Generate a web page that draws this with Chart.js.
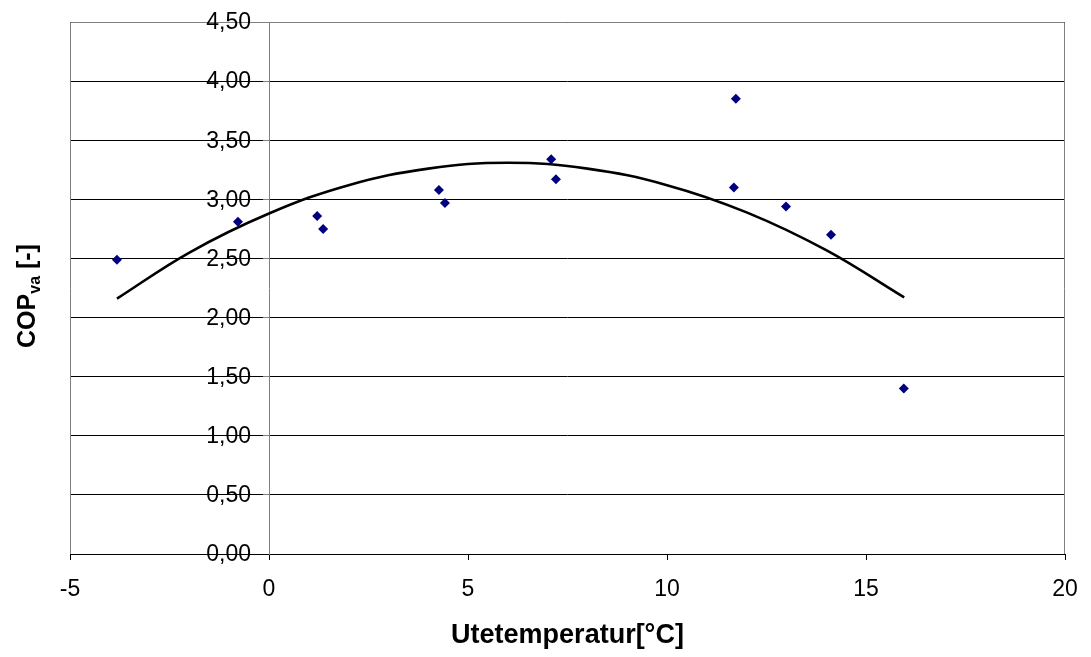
<!DOCTYPE html>
<html>
<head>
<meta charset="utf-8">
<script src="https://cdn.jsdelivr.net/npm/chart.js@4/dist/chart.umd.min.js"></script>
<style>
  html, body { margin: 0; padding: 0; background: #fff; }
</style>
</head>
<body>
<canvas id="copChart" width="1091" height="657"></canvas>
<script>
// -----------------------------------------
// DATA
// -----------------------------------------
// measured points: outdoor temperature (°C) vs COP
const tempOut = [-3.82, -0.78, 1.21, 1.36, 4.27, 4.42, 7.09, 7.21, 11.73, 11.68, 12.99, 14.12, 15.95];
const copVa   = [2.49, 2.81, 2.86, 2.75, 3.08, 2.97, 3.34, 3.17, 3.85, 3.10, 2.94, 2.70, 1.40];

// 2nd order trend curve, sampled off the figure
const trendX = [-3.82, -2, 0, 2, 4, 6, 8, 10, 12, 14, 15.96];
const trendY = [2.16, 2.55, 2.88, 3.12, 3.26, 3.31, 3.26, 3.12, 2.89, 2.57, 2.17];

// axis ranges / tick steps
const xRange = [-5, 20];
const xStep  = 5;
const yRange = [0, 4.5];
const yStep  = 0.5;

const xTitle = 'Utetemperatur[°C]';
const yTitleParts = ['COP', 'va', ' [-]'];

// -----------------------------------------
// helpers
// -----------------------------------------
const FONT = '"Liberation Sans", Arial, Helvetica, sans-serif';
const toPoints = (xs, ys) => xs.map((x, i) => ({ x, y: ys[i] }));
const fmtComma = v => Number(v).toFixed(2).replace('.', ',');

// gray frame round the plot area
const framePlugin = {
  id: 'frame',
  beforeDatasetsDraw(chart) {
    const { ctx, chartArea: a } = chart;
    ctx.save();
    ctx.strokeStyle = '#808080';
    ctx.lineWidth = 1;
    ctx.beginPath();
    ctx.moveTo(a.left + 0.5, a.bottom);
    ctx.lineTo(a.left + 0.5, a.top + 0.5);
    ctx.lineTo(a.right - 0.5, a.top + 0.5);
    ctx.lineTo(a.right - 0.5, a.bottom);
    ctx.stroke();
    ctx.restore();
  }
};

// y tick labels sit left of the y axis, which crosses at x = 0
const yLabelPlugin = {
  id: 'yLabels',
  afterDraw(chart) {
    const { ctx, scales } = chart;
    const xAxisPx = scales.x.getPixelForValue(0);
    ctx.save();
    ctx.font = '23px ' + FONT;
    ctx.fillStyle = '#000';
    ctx.textAlign = 'right';
    ctx.textBaseline = 'middle';
    scales.y.ticks.forEach(t => {
      ctx.fillText(fmtComma(t.value), xAxisPx - 18, scales.y.getPixelForValue(t.value) + 1);
    });
    ctx.restore();
  }
};

// rotated y title with subscript "va"
const yTitlePlugin = {
  id: 'yTitle',
  afterDraw(chart) {
    const { ctx } = chart;
    const big = 'bold 25px ' + FONT;
    const small = 'bold 16px ' + FONT;
    ctx.save();
    ctx.translate(26, 296);
    ctx.rotate(-Math.PI / 2);
    ctx.fillStyle = '#000';
    ctx.textBaseline = 'alphabetic';
    ctx.textAlign = 'left';
    ctx.font = big;   const w1 = ctx.measureText(yTitleParts[0]).width;
    ctx.font = small; const w2 = ctx.measureText(yTitleParts[1]).width;
    ctx.font = big;   const w3 = ctx.measureText(yTitleParts[2]).width;
    let x = -(w1 + w2 + w3) / 2;
    const base = 9;
    ctx.font = big;   ctx.fillText(yTitleParts[0], x, base); x += w1;
    ctx.font = small; ctx.fillText(yTitleParts[1], x, base + 5); x += w2;
    ctx.font = big;   ctx.fillText(yTitleParts[2], x, base);
    ctx.restore();
  }
};

new Chart(document.getElementById('copChart'), {
  type: 'scatter',
  data: {
    datasets: [
      {
        label: 'COP',
        data: toPoints(tempOut, copVa),
        pointStyle: 'rectRot',
        pointRadius: 5,
        pointHoverRadius: 5,
        backgroundColor: '#000080',
        borderColor: '#000080',
        borderWidth: 0,
        showLine: false
      },
      {
        label: 'Trend',
        data: toPoints(trendX, trendY),
        showLine: true,
        tension: 0.4,
        pointRadius: 0,
        borderColor: '#000',
        borderWidth: 2.6,
        fill: false
      }
    ]
  },
  options: {
    responsive: false,
    animation: false,
    devicePixelRatio: 1,
    layout: { padding: { left: 70, top: 22, right: 26, bottom: 5 } },
    plugins: {
      legend: { display: false },
      tooltip: { enabled: false },
      title: { display: false }
    },
    scales: {
      x: {
        type: 'linear',
        min: xRange[0],
        max: xRange[1],
        position: 'bottom',
        // edge labels may hang over; don't let them shrink the plot
        afterFit: s => { s.paddingLeft = 0; s.paddingRight = 0; },
        ticks: {
          stepSize: xStep,
          color: '#000',
          padding: 16,
          maxRotation: 0,
          font: { family: FONT, size: 23 }
        },
        grid: {
          drawOnChartArea: false,
          drawTicks: true,
          tickLength: 6,
          color: '#000',
          tickColor: '#000'
        },
        border: { display: true, color: '#000', width: 1 },
        title: {
          display: true,
          text: xTitle,
          color: '#000',
          padding: { top: 0, bottom: 0 },
          font: { family: FONT, size: 27, weight: 'bold' }
        }
      },
      y: {
        type: 'linear',
        min: yRange[0],
        max: yRange[1],
        position: { x: 0 },
        ticks: {
          stepSize: yStep,
          display: false
        },
        grid: {
          drawOnChartArea: true,
          drawTicks: true,
          tickLength: 6,
          color: '#000',
          tickColor: '#808080',
          lineWidth: 1
        },
        border: { display: true, color: '#808080', width: 1 }
      }
    }
  },
  plugins: [framePlugin, yLabelPlugin, yTitlePlugin]
});
</script>
</body>
</html>
